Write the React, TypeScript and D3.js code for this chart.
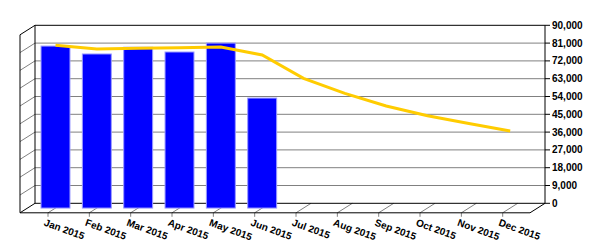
import React from "react";
import * as d3 from "d3";

const months = ["Jan 2015","Feb 2015","Mar 2015","Apr 2015","May 2015","Jun 2015","Jul 2015","Aug 2015","Sep 2015","Oct 2015","Nov 2015","Dec 2015"];
const barValues = [81900, 77900, 81300, 78900, 83400, 55600];
const lineValues = [82300, 80400, 80800, 81000, 81400, 77400, 65600, 58000, 51600, 46700, 42800, 39000];
const yTicks = [0, 9000, 18000, 27000, 36000, 45000, 54000, 63000, 72000, 81000, 90000];

const W = 600, H = 250;
// back wall geometry
const backLeft = 35, backRight = 545;
const yTop = 25.3, yZero = 203.3;
const DX = 15, DY = 9.5; // depth offset from back to front: (-DX, +DY)

export default function App() {
  const y = d3.scaleLinear().domain([0, 90000]).range([yZero, yTop]);
  const x = d3.scalePoint<string>().domain(months).range([63, 517.7]); // centers at back
  const step = x.step();
  const barW = step * 0.7;
  const fmt = d3.format(",");
  // mid-depth offsets
  const mx = -DX / 2, my = DY / 2;

  const line = d3.line<number>()
    .x((_, i) => (x(months[i]) as number) + mx)
    .y((v) => y(v) + my);

  const gridVals = yTicks.filter((v) => v !== 0 && v !== 90000);
  const font = "'Liberation Sans', Arial, sans-serif";

  return (
    <svg width={W} height={H} style={{ position: "absolute", left: 0, top: 0, background: "#fff" }}>
      {/* back wall gridlines */}
      {gridVals.map((v) => (
        <g key={"g" + v}>
          <line x1={backLeft} x2={backRight} y1={y(v)} y2={y(v)} stroke="#808080" strokeWidth={1} />
          <line x1={backLeft} x2={backLeft - DX} y1={y(v)} y2={y(v) + DY} stroke="#808080" strokeWidth={1} />
        </g>
      ))}
      {/* floor gridlines and ticks */}
      {months.map((m) => {
        const bx = x(m) as number;
        return (
          <g key={"f" + m}>
            <line x1={bx} y1={yZero} x2={bx - DX} y2={yZero + DY} stroke="#808080" strokeWidth={1} />
            <line x1={bx - DX} y1={yZero + DY} x2={bx - DX} y2={yZero + DY + 4} stroke="#808080" strokeWidth={1} />
          </g>
        );
      })}
      {/* frame */}
      <g stroke="#000" strokeWidth={1} fill="none">
        <line x1={backLeft} x2={backRight} y1={yTop} y2={yTop} />
        <line x1={backLeft} x2={backLeft} y1={yTop} y2={yZero} />
        <line x1={backLeft} x2={backLeft - DX} y1={yTop} y2={yTop + DY} />
        <line x1={backLeft - DX} x2={backLeft - DX} y1={yTop + DY} y2={yZero + DY} />
        <line x1={backLeft} x2={backRight} y1={yZero} y2={yZero} />
        <line x1={backLeft} x2={backLeft - DX} y1={yZero} y2={yZero + DY} />
        <line x1={backLeft - DX} x2={backRight - DX} y1={yZero + DY} y2={yZero + DY} />
        <line x1={backRight} x2={backRight - DX} y1={yZero} y2={yZero + DY} />
        <line x1={backRight} x2={backRight} y1={yTop} y2={yZero} />
      </g>
      {/* right axis */}
      {yTicks.map((v) => (
        <g key={"t" + v}>
          <line x1={backRight} x2={backRight + 5} y1={y(v)} y2={y(v)} stroke="#000" />
          <text x={backRight + 7} y={y(v)} dy="0.35em" fontFamily={font} fontWeight="bold" fontSize={10} fill="#000">
            {fmt(v)}
          </text>
        </g>
      ))}
      {/* bars */}
      {barValues.map((v, i) => {
        const cx = (x(months[i]) as number) + mx;
        return (
          <rect key={"b" + i} x={cx - barW / 2} y={y(v) + my} width={barW} height={yZero - y(v)}
            fill="#0000FF" stroke="#9999FF" strokeWidth={1} />
        );
      })}
      {/* line */}
      <path d={line(lineValues) || ""} fill="none" stroke="#FFCC00" strokeWidth={3} />
      {/* category labels */}
      {months.map((m) => {
        const fx = (x(m) as number) - DX;
        return (
          <text key={"l" + m} transform={`translate(${fx - 2},${yZero + DY + 5}) rotate(20)`} y={8}
            fontFamily={font} fontWeight="bold" fontSize={10} fill="#000">
            {m}
          </text>
        );
      })}
    </svg>
  );
}
